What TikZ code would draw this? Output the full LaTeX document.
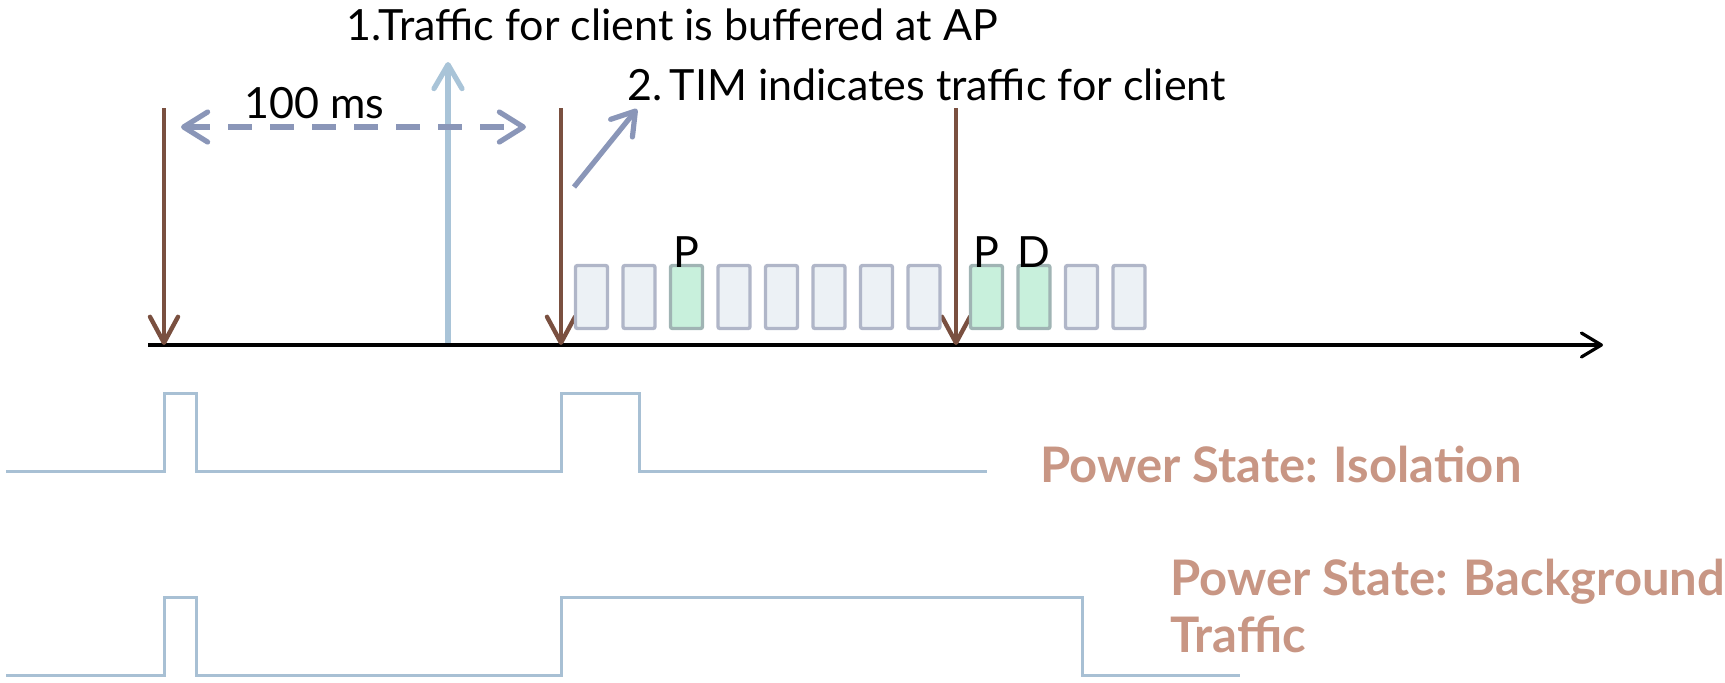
\documentclass[tikz,border=0pt]{standalone}
\usepackage{fontspec}
\setmainfont{Lato}
\usetikzlibrary{arrows.meta}

\definecolor{beacon}{HTML}{7A5040}
\definecolor{traffic}{HTML}{A9C4D8}
\definecolor{slate}{HTML}{8A96B8}
\definecolor{wave}{HTML}{A8C0D4}
\definecolor{slotedge}{HTML}{B0B6C8}
\definecolor{slotfill}{HTML}{ECF1F5}
\definecolor{hitedge}{HTML}{A0B4B4}
\definecolor{hitfill}{HTML}{C8F0DC}
\definecolor{statetxt}{HTML}{C89684}

\tikzset{
  label text/.style={inner sep=0pt, font=\fontsize{21.5}{26}\selectfont, text=black},
  state text/.style={inner sep=0pt, font=\fontsize{24.5}{29}\selectfont\bfseries, text=statetxt},
  beacon arrow/.style={draw=beacon, line width=2.2pt,
    -{Straight Barb[round,length=13pt,width=14pt]}},
  timeaxis/.style={draw=black, line width=1.6pt,
    -{Straight Barb[round,length=10pt,width=12pt]}},
  slot/.style={draw=slotedge, fill=slotfill, line width=1.7pt, rounded corners=1pt,
    minimum width=16pt, minimum height=31.5pt, inner sep=0pt},
  hit/.style={slot, draw=hitedge, fill=hitfill},
  waveline/.style={draw=wave, line width=1.5pt},
}

\begin{document}
\begin{tikzpicture}[x=0.5pt, y=-0.5pt]
\useasboundingbox (0,0) rectangle (1725,682);

% time axis
\coordinate (ax0) at (148,345);
\coordinate (ax1) at (1603,345);
\draw[timeaxis] (ax0) -- (ax1);

% beacons
\foreach \n/\x in {b1/164, b2/561, b3/956}{
  \coordinate (\n top) at (\x,108);
  \coordinate (\n bot) at (\x,345);
  \draw[beacon arrow] (\n top) -- (\n bot);
}

% traffic arrival
\coordinate (tr0) at (448,343);
\coordinate (tr1) at (448,62);
\draw[draw=traffic, line width=2.6pt, -{Straight Barb[round,length=12pt,width=14pt]}] (tr0) -- (tr1);

% beacon interval
\coordinate (iv0) at (181,127);
\coordinate (iv1) at (526,127);
\draw[draw=slate, line width=2.6pt, dash pattern=on 12pt off 9pt,
  {Straight Barb[round,length=12pt,width=15pt]}-{Straight Barb[round,length=12pt,width=15pt]}] (iv0) -- (iv1);
\node[label text, anchor=base west] (ivlbl) at (244,118) {100 ms};

% TIM pointer
\coordinate (tim0) at (574,187);
\coordinate (tim1) at (637,109);
\draw[draw=slate, line width=2.6pt, -{Straight Barb[round,length=11pt,width=14pt]}] (tim0) -- (tim1);

% captions
\node[label text, anchor=base west] (cap1) at (346,40) {1.Traffic for client is buffered at AP};
\node[label text, anchor=base west] (cap2) at (627,100) {2.\,TIM indicates traffic for client};

% slots
\foreach \i/\x/\s in {1/574/slot, 2/621.5/slot, 3/669/hit, 4/716.5/slot, 5/764/slot,
  6/811.5/slot, 7/859/slot, 8/906.5/slot, 9/969/hit, 10/1016.5/hit, 11/1064/slot, 12/1111.5/slot}{
  \node[\s] (s\i) at (\x+17.5,297) {};
}
\node[label text, anchor=base] (p1) at ([yshift=-2pt]s3.north) {P};
\node[label text, anchor=base] (p2) at ([yshift=-2pt]s9.north) {P};
\node[label text, anchor=base] (d1) at ([yshift=-2pt]s10.north) {D};

% power state: isolation
\draw[waveline] (6,471) -- (164,471) -- (164,393) -- (196,393) -- (196,471)
  -- (561,471) -- (561,393) -- (639,393) -- (639,471) -- (987,471);
\node[state text, anchor=base west] (iso) at (1040,482) {Power State: Isolation};

% power state: background traffic
\draw[waveline] (6,675) -- (164,675) -- (164,597) -- (196,597) -- (196,675)
  -- (561,675) -- (561,597) -- (1082,597) -- (1082,675) -- (1240,675);
\node[state text, anchor=base west] (bg1) at (1170,595) {Power State: Background};
\node[state text, anchor=base west] (bg2) at (1170,652) {Traffic};
\end{tikzpicture}
\end{document}
